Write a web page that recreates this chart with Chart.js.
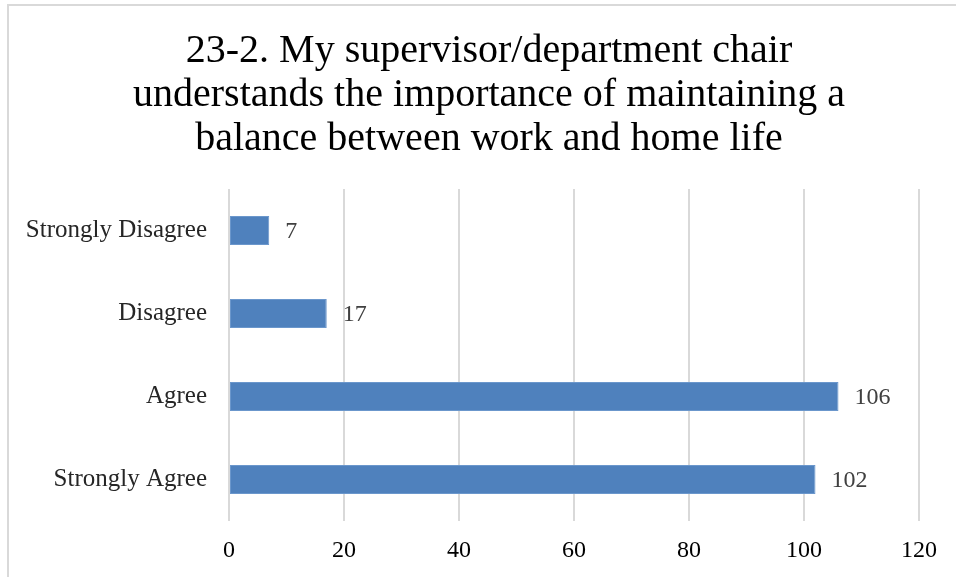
<!DOCTYPE html>
<html>
<head>
<meta charset="utf-8">
<title>23-2 supervisor balance</title>
<script src="https://cdn.jsdelivr.net/npm/chart.js@4.4.1/dist/chart.umd.min.js"></script>
<style>
  html, body { margin: 0; padding: 0; background: #fff; overflow: hidden; }
  #frame {
    position: absolute; left: 7px; top: 4px; width: 1000px; height: 1000px;
    border-left: 2px solid #d9d9d9; border-top: 2px solid #d9d9d9;
  }
  #chartBox { position: absolute; left: 0; top: 0; width: 956px; height: 577px; }
</style>
</head>
<body>
<div id="frame"></div>
<div id="chartBox"><canvas id="barChart"></canvas></div>
<script>
// data
const titleLines = [
  '23-2. My supervisor/department chair',
  'understands the importance of maintaining a',
  'balance between work and home life'
];
const categories = ['Strongly Disagree', 'Disagree', 'Agree', 'Strongly Agree'];
const responses = [7, 17, 106, 102];
const xTicks = [0, 20, 40, 60, 80, 100, 120];

const serif = "'Liberation Serif', 'DejaVu Serif', serif";

// small plugin to write the value next to each bar (no datalabels plugin offline)
const valueLabels = {
  id: 'valueLabels',
  afterDatasetsDraw(chart) {
    const ctx = chart.ctx;
    const meta = chart.getDatasetMeta(0);
    ctx.save();
    ctx.font = '24px ' + serif;
    ctx.fillStyle = '#404040';
    ctx.textAlign = 'left';
    ctx.textBaseline = 'middle';
    meta.data.forEach((bar, i) => {
      ctx.fillText(String(responses[i]), bar.x + 16, bar.y + 1);
    });
    ctx.restore();
  }
};

// the built-in title centres on the canvas, the original sits a bit right of that,
// so it is written here instead (space kept free with layout padding top)
const offsetTitle = {
  id: 'offsetTitle',
  afterDraw(chart) {
    const ctx = chart.ctx;
    ctx.save();
    ctx.font = '40px ' + serif;
    ctx.fillStyle = '#000';
    ctx.textAlign = 'center';
    ctx.textBaseline = 'middle';
    titleLines.forEach((line, i) => {
      ctx.fillText(line, 489, 51 + i * 44);
    });
    ctx.restore();
  }
};

new Chart(document.getElementById('barChart'), {
  type: 'bar',
  data: {
    labels: categories,
    datasets: [{
      data: responses,
      backgroundColor: '#4f81bd',
      borderColor: '#6b97cc',
      borderWidth: 1,
      borderSkipped: false,
      categoryPercentage: 1,
      barPercentage: 0.35
    }]
  },
  options: {
    indexAxis: 'y',
    responsive: true,
    maintainAspectRatio: false,
    animation: false,
    layout: { padding: { left: 0, right: 37, top: 189, bottom: 0 } },
    plugins: {
      legend: { display: false },
      tooltip: { enabled: false },
      title: { display: false }
    },
    scales: {
      x: {
        min: 0,
        max: 120,
        afterBuildTicks(axis) { axis.ticks = xTicks.map(v => ({ value: v })); },
        ticks: {
          color: '#000',
          font: { family: serif, size: 24 },
          padding: 15
        },
        grid: { color: '#d9d9d9', lineWidth: 2, drawTicks: false },
        border: { display: false },
        afterFit(axis) {
          axis.height = 56;
          axis.paddingLeft = 0;
          axis.paddingRight = 0;
        }
      },
      y: {
        ticks: {
          color: '#262626',
          font: { family: serif, size: 25 },
          padding: 22
        },
        grid: { display: false, drawTicks: false },
        border: { display: false },
        afterFit(axis) { axis.width = 229; }
      }
    }
  },
  plugins: [valueLabels, offsetTitle]
});
</script>
</body>
</html>
